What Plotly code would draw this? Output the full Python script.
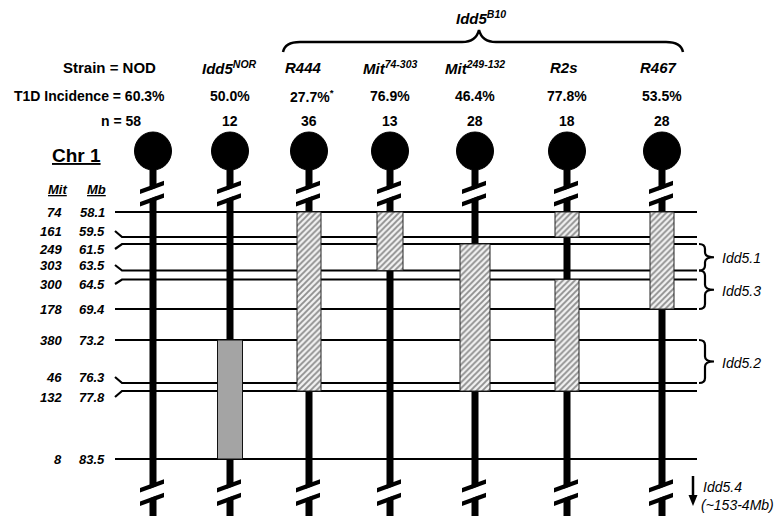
import plotly.graph_objects as go

# ---- data -------------------------------------------------------------
# Chr 1 microsatellite markers (D1Mit) and their physical positions (Mb)
MIT_MARKERS = ["74", "161", "249", "303", "300", "178", "380", "46", "132", "8"]
MB_POSITIONS = [58.1, 59.5, 61.5, 63.5, 64.5, 69.4, 73.2, 76.3, 77.8, 83.5]

# Strains (column 0 is NOD itself)
STRAIN_LABELS = ["Idd5<sup>NOR</sup>", "R444", "Mit<sup>74-303</sup>",
                 "Mit<sup>249-132</sup>", "R2s", "R467"]
T1D_INCIDENCE = [50.0, 27.7, 76.9, 46.4, 77.8, 53.5]
GROUP_N = [12, 36, 13, 28, 18, 28]
SIGNIFICANT = [False, True, False, False, False, False]
NOD_INCIDENCE = 60.3
NOD_N = 58

# Donor-derived intervals: strain column, start Mb, end Mb, donor origin
DONOR_COLUMN = [1, 2, 3, 4, 5, 5, 6]
DONOR_START = [73.2, 58.1, 58.1, 61.5, 58.1, 64.5, 58.1]
DONOR_END = [83.5, 77.8, 63.5, 77.8, 59.5, 77.8, 69.4]
DONOR_ORIGIN = ["NOR", "B10", "B10", "B10", "B10", "B10", "B10"]

# Idd5 subloci defined by the congenic intervals
SUBLOCI = ["Idd5.1", "Idd5.3", "Idd5.2"]
SUBLOCUS_START = [61.5, 63.5, 73.2]
SUBLOCUS_END = [63.5, 69.4, 76.3]

# ---- layout (pixel coordinates) ---------------------------------------
W, H = 776, 516
COL_X = [153, 230, 309, 390, 475, 567, 662]
HEADER_X = [153, 229, 303, 390, 475, 564, 658]
BOX_W = [0, 25, 24, 26, 30, 24, 24]
ROW_LINE_Y = [212, 237, 244, 270.5, 279.5, 309, 340, 383, 391, 459]
ROW_LABEL_Y = [212, 231, 249, 265, 284, 309, 340, 377, 397, 459]
LINE_X0, LINE_X1 = 115, 697
FONT = "Liberation Sans, Arial, Helvetica, sans-serif"

mb_to_y = dict(zip(MB_POSITIONS, ROW_LINE_Y))

shapes = []
annotations = []


def text(x, y, s, size=14, xanchor="center", color="#000"):
    annotations.append(dict(x=x, y=y, xref="x", yref="y", text=s, showarrow=False,
                            xanchor=xanchor, yanchor="middle",
                            font=dict(family=FONT, size=size, color=color)))


def path(d, width=2, color="black", fill=None):
    shp = dict(type="path", path=d, xref="x", yref="y", layer="below",
               line=dict(color=color, width=width))
    if fill:
        shp["fillcolor"] = fill
        shp["line"] = dict(width=0, color=fill)
    shapes.append(shp)


# marker lines across all chromosomes (with short kinks where labels crowd)
for ly, ty in zip(ROW_LINE_Y, ROW_LABEL_Y):
    path(f"M {LINE_X0} {ty} L {LINE_X0 + 7} {ly} L {LINE_X1} {ly}", width=2.2)

# chromosomes: centromere, stalk and break symbols
SLOPE = 0.36


def break_mark(cx, yu, yl):
    # white gap between the two slashes
    path(f"M {cx-6} {yu+6*SLOPE+2} L {cx+6} {yu-6*SLOPE+2} "
         f"L {cx+6} {yl-6*SLOPE-2} L {cx-6} {yl+6*SLOPE-2} Z", fill="white")
    for yc in (yu, yl):
        path(f"M {cx-13} {yc+13*SLOPE-2.3} L {cx+11} {yc-11*SLOPE-2.3} "
             f"L {cx+11} {yc-11*SLOPE+2.3} L {cx-13} {yc+13*SLOPE+2.3} Z", fill="black")


for cx in COL_X:
    shapes.append(dict(type="line", x0=cx, x1=cx, y0=165, y1=H, xref="x", yref="y",
                       layer="below", line=dict(color="black", width=7)))
    shapes.append(dict(type="circle", x0=cx - 18.5, x1=cx + 18.5, y0=132, y1=170,
                       xref="x", yref="y", layer="below", fillcolor="black",
                       line=dict(color="black", width=1)))
    break_mark(cx, 187, 199.5)
    break_mark(cx, 485.5, 499)

# donor intervals as boxes
hatch_x, hatch_base, hatch_len, hatch_w = [], [], [], []
nor_x, nor_base, nor_len, nor_w = [], [], [], []
for c, s, e, o in zip(DONOR_COLUMN, DONOR_START, DONOR_END, DONOR_ORIGIN):
    y0, y1 = mb_to_y[s], mb_to_y[e]
    tgt = (nor_x, nor_base, nor_len, nor_w) if o == "NOR" else (hatch_x, hatch_base, hatch_len, hatch_w)
    tgt[0].append(COL_X[c])
    tgt[1].append(y0)
    tgt[2].append(y1 - y0)
    tgt[3].append(BOX_W[c])

fig = go.Figure()
fig.add_trace(go.Bar(x=nor_x, base=nor_base, y=nor_len, width=nor_w, name="NOR",
                     marker=dict(color="#a4a4a4", line=dict(color="#111", width=1)),
                     hoverinfo="skip"))
fig.add_trace(go.Bar(x=hatch_x, base=hatch_base, y=hatch_len, width=hatch_w, name="B10",
                     marker=dict(color="#f2f2f2", line=dict(color="#222", width=1),
                                 pattern=dict(shape="/", fgcolor="#2a2a2a", bgcolor="#f2f2f2",
                                              size=4.2, solidity=0.45)),
                     hoverinfo="skip"))

# header rows
text(158, 67, "<b>Strain = NOD</b>", size=15, xanchor="right")
text(167, 96, f"<b>T1D Incidence = {NOD_INCIDENCE:.1f}%</b>", size=14, xanchor="right")
text(143, 121, f"<b>n = {NOD_N}</b>", size=14, xanchor="right")
for i, (lab, inc, n, sig) in enumerate(zip(STRAIN_LABELS, T1D_INCIDENCE, GROUP_N, SIGNIFICANT)):
    hx = HEADER_X[i + 1]
    cx = COL_X[i + 1]
    text(hx, 67, f"<b><i>{lab}</i></b>", size=15)
    star = "<sup>*</sup>" if sig else ""
    text(cx + (3 if sig else 0), 96, f"<b>{inc:.1f}%{star}</b>", size=14)
    text(cx, 121, f"<b>{n}</b>", size=14)

# B10-derived group brace
text(481, 17, "<b><i>Idd5<sup>B10</sup></i></b>", size=15)
path("M 283 52 Q 285 42 300 42 L 462 42 Q 476 42 479 30 "
     "Q 482 42 496 42 L 666 42 Q 681 42 683 52", width=2.5)

# marker table
text(76, 155, "<b><u>Chr 1</u></b>", size=19)
text(57, 189, "<b><i><u>Mit</u></i></b>", size=13)
text(96, 189, "<b><i><u>Mb</u></i></b>", size=13)
for m, mb, ty in zip(MIT_MARKERS, MB_POSITIONS, ROW_LABEL_Y):
    text(64, ty, f"<b><i>{m}</i></b>", size=13, xanchor="right")
    text(107, ty, f"<b><i>{mb:.1f}</i></b>", size=13, xanchor="right")

# sublocus braces
for name, s, e in zip(SUBLOCI, SUBLOCUS_START, SUBLOCUS_END):
    y0, y1 = mb_to_y[s], mb_to_y[e]
    ym = (y0 + y1) / 2
    path(f"M 699 {y0} Q 705 {y0} 705 {y0+5} L 705 {ym-5} Q 705 {ym} 714 {ym} "
         f"Q 705 {ym} 705 {ym+5} L 705 {y1-5} Q 705 {y1} 699 {y1}", width=2.2)
    text(720, ym + 1, f"<i>{name}</i>", size=14, xanchor="left")

# distal sublocus pointer
path("M 693 476 L 693 496", width=2.5)
path("M 688.5 495 L 697.5 495 L 693 506 Z", fill="black")
text(701, 487, "<i>Idd5.4</i>", size=14, xanchor="left")
text(699, 505, "<i>(~153-4Mb)</i>", size=14, xanchor="left")

fig.update_layout(
    width=W, height=H, autosize=False,
    margin=dict(l=0, r=0, t=0, b=0),
    paper_bgcolor="white", plot_bgcolor="white",
    barmode="overlay", showlegend=False,
    xaxis=dict(range=[0, W], visible=False, fixedrange=True),
    yaxis=dict(range=[H, 0], visible=False, fixedrange=True),
    shapes=shapes, annotations=annotations,
)

fig.write_html("out.html")
